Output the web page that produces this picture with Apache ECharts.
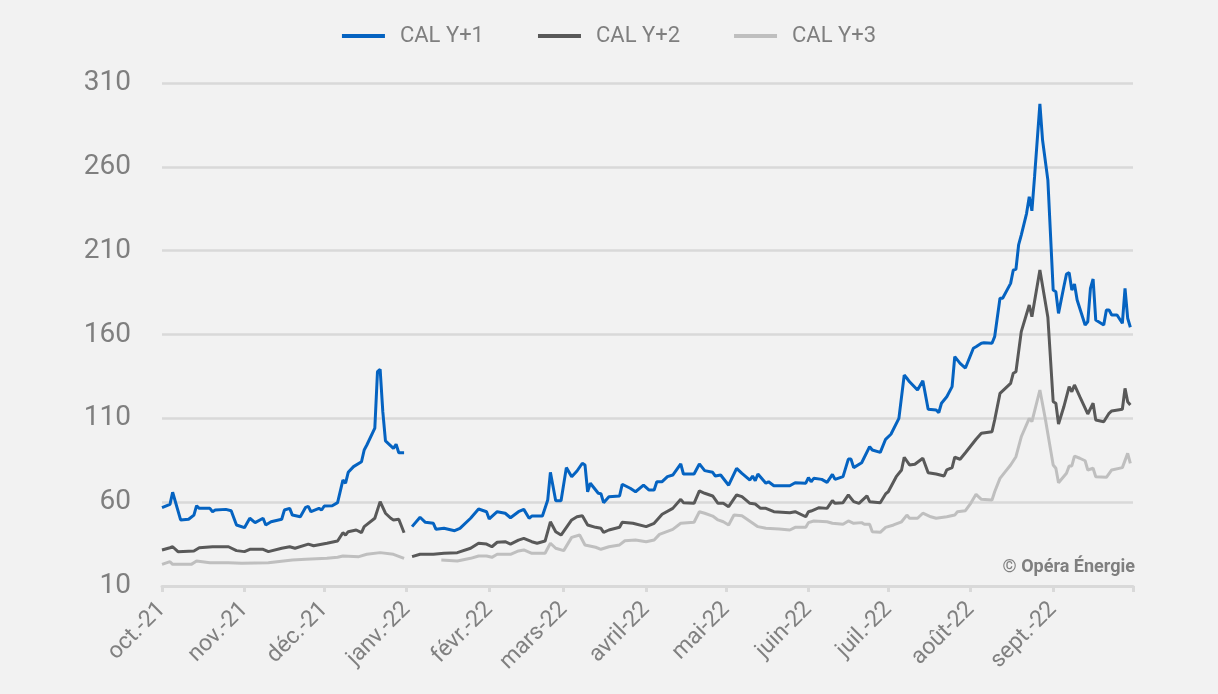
<!DOCTYPE html>
<html>
<head>
<meta charset="utf-8">
<script src="https://cdn.jsdelivr.net/npm/echarts@6/dist/echarts.min.js"></script>
<style>
html,body{margin:0;padding:0;background:#f2f2f2;}
#chart{width:1218px;height:694px;}
</style>
</head>
<body>
<div id="chart"></div>
<script>
const seriesNames = ['CAL Y+1', 'CAL Y+2', 'CAL Y+3'];

const xTickDates = ['2021-10-01','2021-11-01','2021-12-01','2022-01-01','2022-02-01','2022-03-01','2022-04-01','2022-05-01','2022-06-01','2022-07-01','2022-08-01','2022-09-01','2022-10-01'];
const xTickLabels = ['oct.-21','nov.-21','déc.-21','janv.-22','févr.-22','mars-22','avril-22','mai-22','juin-22','juil.-22','août-22','sept.-22'];
const yTicks = [10, 60, 110, 160, 210, 260, 310];

const y1Dates = ['2021-10-01','2021-10-04','2021-10-05','2021-10-08','2021-10-11','2021-10-13','2021-10-14','2021-10-15','2021-10-19','2021-10-20','2021-10-21','2021-10-25','2021-10-27','2021-10-29',
'2021-11-01','2021-11-03','2021-11-05','2021-11-08','2021-11-09','2021-11-11','2021-11-15','2021-11-16','2021-11-18','2021-11-19','2021-11-22','2021-11-24','2021-11-25','2021-11-26','2021-11-29','2021-11-30',
'2021-12-01','2021-12-04','2021-12-06','2021-12-08','2021-12-09','2021-12-10','2021-12-12','2021-12-15','2021-12-16','2021-12-17','2021-12-20','2021-12-21','2021-12-22','2021-12-23','2021-12-24','2021-12-27','2021-12-28','2021-12-29','2021-12-31',
'2022-01-01','2022-01-03','2022-01-06','2022-01-08','2022-01-11','2022-01-12','2022-01-15','2022-01-19','2022-01-21','2022-01-25','2022-01-28','2022-01-31',
'2022-02-01','2022-02-04','2022-02-07','2022-02-09','2022-02-12','2022-02-14','2022-02-16','2022-02-17','2022-02-21','2022-02-23','2022-02-24','2022-02-26','2022-02-28',
'2022-03-02','2022-03-04','2022-03-06','2022-03-08','2022-03-09','2022-03-10','2022-03-11','2022-03-14','2022-03-15','2022-03-16','2022-03-18','2022-03-22','2022-03-23','2022-03-26','2022-03-28','2022-03-31',
'2022-04-02','2022-04-04','2022-04-05','2022-04-07','2022-04-09','2022-04-11','2022-04-14','2022-04-15','2022-04-19','2022-04-21','2022-04-23','2022-04-26','2022-04-27','2022-04-29',
'2022-05-02','2022-05-05','2022-05-07','2022-05-10','2022-05-11','2022-05-12','2022-05-13','2022-05-16','2022-05-17','2022-05-19','2022-05-25','2022-05-27','2022-05-31',
'2022-06-01','2022-06-02','2022-06-03','2022-06-06','2022-06-08','2022-06-10','2022-06-11','2022-06-14','2022-06-16','2022-06-17','2022-06-18','2022-06-21','2022-06-24','2022-06-25','2022-06-28','2022-06-30',
'2022-07-02','2022-07-05','2022-07-07','2022-07-08','2022-07-09','2022-07-12','2022-07-14','2022-07-16','2022-07-19','2022-07-20','2022-07-21','2022-07-23','2022-07-25','2022-07-26','2022-07-28','2022-07-30',
'2022-08-02','2022-08-03','2022-08-05','2022-08-06','2022-08-09','2022-08-10','2022-08-12','2022-08-13','2022-08-16','2022-08-17','2022-08-18','2022-08-19','2022-08-20','2022-08-22','2022-08-23','2022-08-24','2022-08-25','2022-08-27','2022-08-28','2022-08-30',
'2022-09-01','2022-09-02','2022-09-03','2022-09-05','2022-09-06','2022-09-07','2022-09-08','2022-09-09','2022-09-10','2022-09-13','2022-09-14','2022-09-15','2022-09-16','2022-09-17','2022-09-20','2022-09-21','2022-09-22','2022-09-23','2022-09-25','2022-09-27','2022-09-28','2022-09-29','2022-09-30'];
const y1Values = [56.7,58.7,65.9,49.4,49.8,52.3,57.9,56.3,56.3,54.3,55.3,55.7,54.9,46.4,
44.8,50.4,47.8,50.4,46.4,48.3,49.8,55.3,56.3,52.3,51.3,56.9,57.5,54.3,56.3,55.3,
57.7,57.9,59.7,73.2,71.3,77.8,81.2,84.1,91.1,94.1,104.1,137.8,139.2,114,96.5,92.1,94.5,89.5,89.5,
null,45.4,51.0,48.0,47.4,43.8,44.4,43.0,44.4,50.4,55.9,54.3,
50.0,54.3,53.4,50.7,54.3,55.7,50.4,51.7,51.7,61.3,77.8,60.9,60.9,
80.6,75.2,78.6,83.2,82.2,66.2,71.3,65.3,65.0,59.7,63.3,63.7,70.7,68.3,66.2,70.2,
67.3,67.3,72.2,72.2,75.2,76.2,82.8,76.8,76.8,82.8,78.8,77.8,75.6,76.2,
70.1,80.2,77.2,73.2,75.6,72.8,76.8,71.3,72.2,69.8,69.8,71.6,71.3,
74.6,72.2,74.2,73.6,71.8,76.6,73.6,75.2,85.7,85.7,80.6,83.5,93.1,91.1,89.7,97.5,
100.5,110.0,135.8,133.9,131.8,126.9,132.4,115.4,115.0,113.4,119.0,122.9,128.9,146.8,142.8,140.0,
151.8,152.7,154.8,155.1,154.8,158.7,181.6,181.6,190.5,198.5,198.9,213.4,219.3,232.3,242.2,233.8,254.1,297.5,276.0,252.1,
186.5,185.5,172.6,188.5,196.1,196.9,186.5,190.1,180.6,165.7,167.6,187.5,193.1,168.6,165.7,174.6,174.6,171.6,171.6,166.7,187.5,169.7,164.3];

const y2Dates = ['2021-10-01','2021-10-04','2021-10-05','2021-10-07','2021-10-13','2021-10-15','2021-10-20','2021-10-26','2021-10-29',
'2021-11-01','2021-11-03','2021-11-08','2021-11-10','2021-11-15','2021-11-18','2021-11-20','2021-11-25','2021-11-27',
'2021-12-02','2021-12-06','2021-12-08','2021-12-09','2021-12-10','2021-12-13','2021-12-15','2021-12-16','2021-12-20','2021-12-22','2021-12-24','2021-12-26','2021-12-27','2021-12-29','2021-12-31',
'2022-01-01','2022-01-03','2022-01-06','2022-01-11','2022-01-15','2022-01-20','2022-01-25','2022-01-28','2022-01-31',
'2022-02-02','2022-02-04','2022-02-07','2022-02-09','2022-02-12','2022-02-14','2022-02-17','2022-02-19','2022-02-22','2022-02-24','2022-02-26','2022-02-28',
'2022-03-04','2022-03-06','2022-03-08','2022-03-10','2022-03-13','2022-03-15','2022-03-16','2022-03-18','2022-03-22','2022-03-23','2022-03-27',
'2022-04-01','2022-04-04','2022-04-07','2022-04-11','2022-04-14','2022-04-15','2022-04-19','2022-04-21','2022-04-23','2022-04-26','2022-04-28','2022-04-30',
'2022-05-02','2022-05-05','2022-05-07','2022-05-10','2022-05-12','2022-05-14','2022-05-16','2022-05-19','2022-05-25','2022-05-27','2022-05-31',
'2022-06-01','2022-06-02','2022-06-05','2022-06-08','2022-06-10','2022-06-11','2022-06-14','2022-06-16','2022-06-18','2022-06-20','2022-06-23','2022-06-24','2022-06-28','2022-06-30',
'2022-07-01','2022-07-04','2022-07-06','2022-07-07','2022-07-09','2022-07-11','2022-07-14','2022-07-16','2022-07-19','2022-07-22','2022-07-23','2022-07-25','2022-07-26','2022-07-28','2022-07-30',
'2022-08-03','2022-08-05','2022-08-09','2022-08-10','2022-08-12','2022-08-16','2022-08-17','2022-08-18','2022-08-20','2022-08-23','2022-08-24','2022-08-27','2022-08-30',
'2022-09-01','2022-09-02','2022-09-03','2022-09-05','2022-09-07','2022-09-08','2022-09-09','2022-09-11','2022-09-14','2022-09-16','2022-09-17','2022-09-20','2022-09-22','2022-09-23','2022-09-27','2022-09-28','2022-09-29','2022-09-30'];
const y2Values = [31.5,32.8,33.4,30.5,30.9,32.8,33.4,33.4,31.1,
30.5,31.9,31.9,30.5,32.5,33.4,32.5,35.0,34.0,
35.5,36.8,41.8,40.4,42.4,43.4,41.8,45.4,50.4,60.3,53.4,50.4,49.4,49.8,41.8,
null,27.5,28.9,28.9,29.5,29.9,32.5,35.5,35.0,
33.4,36.1,36.4,35.0,37.4,38.4,36.4,35.5,36.8,48.3,42.4,40.4,
49.4,51.3,51.9,46.4,45.0,44.4,42.0,43.4,45.0,48.0,47.4,
45.4,47.4,52.8,56.3,61.7,59.7,59.3,66.7,65.3,63.7,59.3,59.3,
57.3,64.3,63.3,59.3,58.9,56.3,56.3,54.3,53.7,54.3,51.3,
54.3,54.7,56.7,56.3,60.9,59.3,59.7,64.3,60.3,59.3,63.7,60.3,59.7,64.9,
66.2,75.2,79.2,86.8,82.2,82.6,86.2,77.6,76.8,75.6,79.2,80.6,86.8,85.6,89.5,
97.5,101.1,102.0,109.0,124.9,130.9,136.9,137.8,161.7,177.6,170.6,198.5,170.3,
119.9,119.0,106.6,116.9,128.9,125.9,129.9,122.9,112.6,119.0,109.0,108.0,113.0,114.4,115.4,127.9,119.9,118.0];

const y3Dates = ['2021-10-01','2021-10-04','2021-10-05','2021-10-12','2021-10-14','2021-10-19','2021-10-26','2021-10-31',
'2021-11-10','2021-11-19','2021-11-24',
'2021-12-02','2021-12-06','2021-12-08','2021-12-14','2021-12-17','2021-12-22','2021-12-27','2021-12-31',
'2022-01-01','2022-01-14','2022-01-20','2022-01-25','2022-01-28','2022-01-31',
'2022-02-02','2022-02-04','2022-02-09','2022-02-12','2022-02-14','2022-02-17','2022-02-22','2022-02-24','2022-02-26',
'2022-03-01','2022-03-04','2022-03-07','2022-03-09','2022-03-13','2022-03-15','2022-03-18','2022-03-22','2022-03-24','2022-03-28',
'2022-04-01','2022-04-04','2022-04-06','2022-04-11','2022-04-14','2022-04-19','2022-04-21','2022-04-23','2022-04-26','2022-04-28','2022-04-30',
'2022-05-02','2022-05-04','2022-05-07','2022-05-13','2022-05-16','2022-05-21','2022-05-25','2022-05-27','2022-05-31',
'2022-06-01','2022-06-03','2022-06-08','2022-06-10','2022-06-14','2022-06-16','2022-06-18','2022-06-21','2022-06-22','2022-06-24','2022-06-25','2022-06-28','2022-06-30',
'2022-07-03','2022-07-06','2022-07-08','2022-07-09','2022-07-12','2022-07-14','2022-07-17','2022-07-19','2022-07-23','2022-07-26','2022-07-27','2022-07-30',
'2022-08-01','2022-08-03','2022-08-05','2022-08-09','2022-08-10','2022-08-12','2022-08-14','2022-08-16','2022-08-18','2022-08-20','2022-08-23','2022-08-24','2022-08-27','2022-08-29',
'2022-09-01','2022-09-02','2022-09-03','2022-09-06','2022-09-07','2022-09-08','2022-09-09','2022-09-11','2022-09-13','2022-09-14','2022-09-16','2022-09-17','2022-09-21','2022-09-23','2022-09-27','2022-09-29','2022-09-30'];
const y3Values = [22.9,24.5,22.9,22.9,24.9,23.9,23.9,23.5,
23.9,25.5,25.9,
26.5,27.1,27.9,27.5,28.9,29.9,28.9,26.5,
null,25.5,24.9,26.5,27.9,27.9,
27.1,28.9,28.9,30.9,31.5,29.5,29.5,35.5,32.5,
31.1,39.0,40.4,34.5,33.1,31.9,33.4,34.5,37.0,37.4,
36.4,37.4,40.8,43.8,47.4,48.0,54.3,53.4,51.7,49.4,48.3,
46.4,52.3,51.9,45.4,44.4,44.0,43.4,45.0,45.0,
47.8,48.8,48.3,47.4,46.8,48.8,47.4,47.8,46.8,46.8,42.4,42.0,45.0,
46.4,48.3,52.3,50.4,50.4,53.4,51.3,50.4,51.3,52.3,54.3,54.9,
59.3,64.7,61.7,61.3,66.2,74.2,78.2,82.2,87.1,99.0,110.0,108.0,126.9,110.0,
82.2,80.2,71.6,77.2,81.6,81.6,87.5,86.2,84.7,79.2,80.2,75.2,74.8,79.2,80.6,89.1,83.2];

// day number counted from the first date of the axis (UTC, so no DST shift)
const ORIGIN = Date.UTC(2021, 9, 1);
function dayNum(s) { const p = s.split('-').map(Number); return Math.round((Date.UTC(p[0], p[1] - 1, p[2]) - ORIGIN) / 86400000); }
function pairs(dates, vals) { return dates.map((d, i) => [dayNum(d), vals[i]]); }

const tickDays = xTickDates.map(dayNum);
const labelDays = tickDays.slice(0, xTickLabels.length);
const labelMap = {};
labelDays.forEach((t, i) => { labelMap[t] = xTickLabels[i]; });

const colors = ['#0563c1', '#595959', '#bfbfbf'];
const FONT = 'Roboto';

const chart = echarts.init(document.getElementById('chart'), null, { renderer: 'canvas' });
chart.setOption({
  backgroundColor: '#f2f2f2',
  animation: false,
  color: colors,
  legend: {
    top: 20,
    left: 'center',
    icon: 'rect',
    itemWidth: 43,
    itemHeight: 4,
    itemGap: 54,
    textStyle: { fontFamily: FONT, fontSize: 22, color: '#7f7f7f', padding: [0, 0, 0, 10] },
    data: seriesNames
  },
  grid: { left: 162, right: 85, top: 83, bottom: 108, containLabel: false, outerBoundsMode: 'none' },
  xAxis: {
    type: 'value',
    min: tickDays[0],
    max: tickDays[tickDays.length - 1],
    axisLine: { show: true, lineStyle: { color: '#d9d9d9', width: 3 } },
    axisTick: { show: true, customValues: tickDays, length: 6, lineStyle: { color: '#d9d9d9', width: 3 } },
    axisLabel: {
      customValues: labelDays,
      formatter: function (v) { return labelMap[Math.round(v)] || ''; },
      rotate: 45,
      margin: 20,
      fontFamily: FONT,
      fontSize: 23,
      color: '#808080',
      hideOverlap: false
    },
    splitLine: { show: false }
  },
  yAxis: {
    type: 'value',
    min: 10,
    max: 310,
    axisLine: { show: false },
    axisTick: { show: false, customValues: yTicks },
    axisLabel: { customValues: yTicks, fontFamily: FONT, fontSize: 28, color: '#7f7f7f', margin: 31 },
    splitLine: { show: true, lineStyle: { color: '#d9d9d9', width: 2.5 } }
  },
  graphic: [{
    type: 'text',
    right: 83,
    top: 558,
    style: { text: '© Opéra Énergie', font: 'bold 18px Roboto', fill: '#7f7f7f' }
  }],
  series: [
    { name: seriesNames[0], type: 'line', data: pairs(y1Dates, y1Values), showSymbol: false, symbol: 'none', connectNulls: false, lineStyle: { width: 3, color: colors[0] }, z: 4 },
    { name: seriesNames[1], type: 'line', data: pairs(y2Dates, y2Values), showSymbol: false, symbol: 'none', connectNulls: false, lineStyle: { width: 3, color: colors[1] }, z: 3 },
    { name: seriesNames[2], type: 'line', data: pairs(y3Dates, y3Values), showSymbol: false, symbol: 'none', connectNulls: false, lineStyle: { width: 3, color: colors[2] }, z: 2 }
  ]
});
</script>
</body>
</html>
